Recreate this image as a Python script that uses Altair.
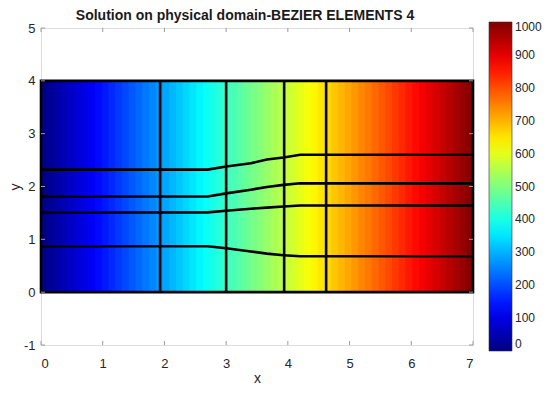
import altair as alt
import pandas as pd
import numpy as np

# ---------------- data ----------------
x_range = [0, 7]          # physical domain in x
y_range = [0, 4]          # physical domain in y
u_range = [0, 1000]       # solution: 0 at x=0, 1000 at x=7 (linear in x)
n_levels = 64             # colour levels (banding) of the colormap

vline_x = [1.93, 3.0, 3.94, 4.62]

curve_x = [0, 2.7, 3.0, 3.4, 3.66, 3.93, 4.2, 7]
curve_1 = [2.32, 2.32, 2.38, 2.44, 2.51, 2.55, 2.60, 2.60]
curve_2 = [1.81, 1.81, 1.87, 1.94, 1.99, 2.03, 2.06, 2.06]
curve_3 = [1.51, 1.51, 1.54, 1.58, 1.60, 1.62, 1.64, 1.64]
curve_4 = [0.87, 0.87, 0.83, 0.77, 0.73, 0.70, 0.68, 0.68]

x_ticks = [0, 1, 2, 3, 4, 5, 6, 7]
y_ticks = [-1, 0, 1, 2, 3, 4, 5]
cbar_ticks = [0, 100, 200, 300, 400, 500, 600, 700, 800, 900, 1000]

title_text = "Solution on physical domain-BEZIER ELEMENTS 4"

# ---------------- tables ----------------
def jet(t):
    r = np.clip(1.5 - abs(4 * t - 3), 0, 1)
    g = np.clip(1.5 - abs(4 * t - 2), 0, 1)
    b = np.clip(1.5 - abs(4 * t - 1), 0, 1)
    return "#%02x%02x%02x" % (int(round(r * 255)), int(round(g * 255)), int(round(b * 255)))

jet_colors = [jet(t) for t in np.linspace(0, 1, 129)]

span = x_range[1] - x_range[0]
step = span / n_levels
stripes = pd.DataFrame({
    "x0": [x_range[0] + step * i for i in range(n_levels)],
    # each band slightly overlaps the next one to avoid anti-aliasing seams
    "x1": [min(x_range[0] + step * (i + 1.5), x_range[1]) for i in range(n_levels)],
    "u": [u_range[0] + (u_range[1] - u_range[0]) * (i + 0.5) / n_levels for i in range(n_levels)],
    "y0": y_range[0],
    "y1": y_range[1],
})

vlines = pd.DataFrame({"x": vline_x, "y0": y_range[0], "y1": y_range[1]})

curves = pd.concat([
    pd.DataFrame({"x": curve_x, "y": c, "id": k})
    for k, c in enumerate([curve_1, curve_2, curve_3, curve_4])
])

box = pd.DataFrame({"x0": [x_range[0]], "x1": [x_range[1]], "y0": [y_range[0]], "y1": [y_range[1]]})
xt = pd.DataFrame({"x": x_ticks})
yt = pd.DataFrame({"y": y_ticks})

W, H = 432, 317
FONT = "Liberation Sans"
AX = "#9a9a9a"
TXT = "#262626"

xs = alt.Scale(domain=[0, 7], nice=False, zero=False)
ys = alt.Scale(domain=[-1, 5], nice=False, zero=False)
cs = alt.Scale(domain=u_range, range=jet_colors)

x_axis = alt.Axis(values=x_ticks, title="x", grid=False, ticks=False, domain=False,
                  labelExpr="'' + datum.value",
                  labelFontSize=13, labelPadding=12, titleFontSize=14, titleFontWeight="normal",
                  titlePadding=1, labelColor=TXT, titleColor=TXT, labelFont=FONT, titleFont=FONT)
y_axis = alt.Axis(values=y_ticks, title="y", grid=False, ticks=False, domain=False,
                  labelExpr="'' + datum.value",
                  labelFontSize=13, labelPadding=6, titleFontSize=14, titleFontWeight="normal",
                  titlePadding=1, labelColor=TXT, titleColor=TXT, labelFont=FONT, titleFont=FONT)

heat = alt.Chart(stripes).mark_rect(stroke=None).encode(
    x=alt.X("x0:Q", scale=xs, axis=x_axis),
    x2="x1:Q",
    y=alt.Y("y0:Q", scale=ys, axis=y_axis),
    y2="y1:Q",
    color=alt.Color("u:Q", scale=cs, legend=alt.Legend(
        type="gradient", orient="none", legendX=448, legendY=-6, direction="vertical",
        gradientLength=329, gradientThickness=23, values=cbar_ticks, title=None, format="d",
        labelFontSize=12, labelFont=FONT, labelColor=TXT, labelOffset=3, padding=0,
        labelBaseline="middle",
        gradientStrokeColor="#333333", gradientStrokeWidth=0.6)),
    order=alt.Order("x0:Q"),
)

vrules = alt.Chart(vlines).mark_rule(color="black", strokeWidth=2.6).encode(
    x="x:Q", y="y0:Q", y2="y1:Q")

hlines = alt.Chart(curves).mark_line(color="black", strokeWidth=2.6).encode(
    x="x:Q", y="y:Q", detail="id:N", order="x:Q")

border = alt.Chart(box).mark_rect(fillOpacity=0, stroke="black", strokeWidth=2.6).encode(
    x="x0:Q", x2="x1:Q", y="y0:Q", y2="y1:Q")

tick_b = alt.Chart(xt).mark_rule(color=AX, strokeWidth=1).encode(
    x="x:Q", y=alt.value(H), y2=alt.value(H - 4))
tick_t = alt.Chart(xt).mark_rule(color=AX, strokeWidth=1).encode(
    x="x:Q", y=alt.value(0), y2=alt.value(4))
tick_l = alt.Chart(yt).mark_rule(color=AX, strokeWidth=1).encode(
    y="y:Q", x=alt.value(0), x2=alt.value(4))
tick_r = alt.Chart(yt).mark_rule(color=AX, strokeWidth=1).encode(
    y="y:Q", x=alt.value(W), x2=alt.value(W - 4))

chart = alt.layer(heat, vrules, hlines, border, tick_b, tick_t, tick_l, tick_r).properties(
    width=W, height=H,
    title=alt.TitleParams(title_text, fontSize=14, fontWeight="bold", font=FONT,
                          color="#1a1a1a", anchor="middle", dx=-12, offset=-1),
    autosize=alt.AutoSizeParams(type="none"),
    padding={"left": 33, "top": 20, "right": 69, "bottom": 40},
).configure_view(stroke=AX, strokeWidth=1).configure(background="white")

chart.save("out.html", embed_options={"renderer": "svg", "actions": False})
